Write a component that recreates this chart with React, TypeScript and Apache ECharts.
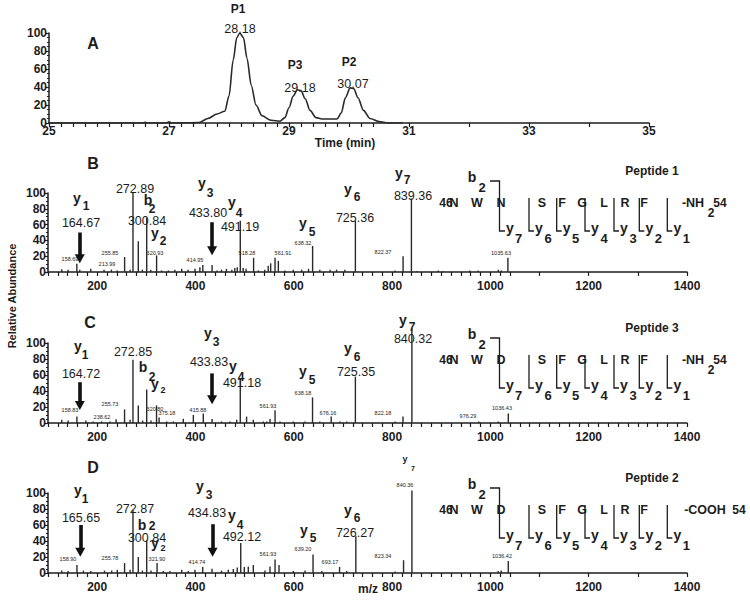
import React, { useEffect, useRef } from "react";
import * as echarts from "echarts";

// ---------------- DATA ----------------
// Panel A: chromatogram
const chromTime = [25, 26.55, 26.6, 26.65, 26.95, 27.0, 27.05, 27.5, 27.65, 27.8, 27.93, 28.0, 28.07, 28.13, 28.18, 28.24, 28.3, 28.37, 28.45, 28.55, 28.7, 28.85, 28.93, 29.0, 29.07, 29.14, 29.2, 29.27, 29.35, 29.45, 29.55, 29.8, 29.87, 29.94, 30.02, 30.08, 30.15, 30.24, 30.35, 30.5, 30.65, 30.9];
const chromIntensity = [0, 0, 0.8, 0, 0, 1.2, 0, 0.5, 5, 10, 13, 30, 70, 95, 100, 95, 72, 42, 20, 8, 3, 2, 6, 17, 30, 37, 36, 27, 14, 6, 4.5, 4.5, 11, 28, 39, 38, 28, 14, 5, 1.5, 0, 0];
const peakNames = ["P1", "P3", "P2"];
const peakTimes = ["28.18", "29.18", "30.07"];

// Panel B: Peptide 1 MS/MS
const mzB = [128, 141, 158.69, 164.67, 187, 213.99, 229, 241, 255.85, 267, 272.89, 283.7, 292, 300.84, 309, 320.93, 331, 345, 358, 372, 385, 399, 409, 414.95, 433.8, 444, 453, 463, 474, 480, 485, 491.19, 497, 503, 518.28, 528, 541, 548, 553, 561.91, 568.6, 582, 599, 616, 630, 638.32, 653, 674, 687, 704, 725.36, 806, 822.37, 839.36, 850, 894, 904, 958, 975, 1016, 1022, 1035.63];
const intB = [3.4, 3, 10.5, 3, 4, 3, 3, 2, 19, 3, 100, 39, 3, 69, 3, 21, 2, 2, 3, 4, 3, 4, 6, 9, 9, 2, 3, 4, 3, 5, 6, 65, 5, 4, 18, 2, 3, 8, 11, 18, 14, 2, 3, 3, 4, 33, 3, 3, 3, 3, 65, 2, 20, 93, 1, 2, 1, 2, 2, 3, 2, 18];

// Panel C: Peptide 3 MS/MS
const mzC = [128, 141, 158.83, 177, 192, 209, 226, 238.62, 255.73, 267, 272.85, 283.7, 292.6, 300.8, 309.5, 320.8, 326, 341.5, 355, 375.18, 395.7, 415.88, 433.83, 453, 470, 484, 491.18, 504, 517.7, 538, 545, 551.7, 561.93, 572, 599, 623, 638.18, 653, 676.16, 694, 707.7, 725.35, 806, 822.18, 840.32, 976.29, 1016, 1036.43];
const intC = [4, 3, 8, 3, 2, 2, 2, 4.6, 17, 4, 79, 22, 3, 42, 3, 22, 7, 2, 2, 5.4, 10, 12, 5, 2, 2, 4, 55, 8, 4, 2, 2, 5, 16, 2, 2, 2, 32, 2, 8, 2, 2, 58, 2, 8, 118, 2, 2, 12];

// Panel D: Peptide 2 MS/MS
const mzD = [128, 141, 158.9, 172, 187, 215, 229.6, 241, 255.78, 267, 272.87, 283.7, 292, 300.84, 309.5, 321.9, 334.6, 348, 372, 385.5, 399, 414.74, 433.7, 453, 466.8, 477, 485, 492.12, 499.4, 507.5, 517.7, 541.5, 551.7, 561.93, 570, 599, 623, 639.2, 656.9, 693.17, 707.7, 726.27, 806, 823.34, 840.36, 1016, 1022, 1036.42];
const intD = [3, 2.5, 10, 3, 2.5, 3, 3, 4, 12.5, 4, 79, 20, 3, 41, 3, 12.5, 2.5, 2.5, 4, 2.5, 4, 7.5, 5.4, 3, 4, 5, 7, 37.5, 7.5, 8, 10, 3, 8, 17, 10, 2.5, 3, 23, 2.5, 7.5, 2.5, 46, 2, 16, 103, 2.5, 3, 15];

// Arrows marking y1 / y3 ions: [m/z, arrow top %, arrow head centre %]
const arrowsB = [[164.67, 50, 16.7], [433.8, 63, 27]];
const arrowsC = [[164.72, 51, 22], [433.83, 62, 29]];
const arrowsD = [[165.65, 60, 26], [434.83, 61, 26]];

// Peptide sequences
const residuesB = ["N", "W", "N", "S", "F", "G", "L", "R", "F"];
const residuesC = ["N", "W", "D", "S", "F", "G", "L", "R", "F"];
const residuesD = ["N", "W", "D", "S", "F", "G", "L", "R", "F"];
const peptideNames = ["Peptide 1", "Peptide 3", "Peptide 2"];

// Annotation texts (text, then layout position)
const ionB: any[] = [["y", "1", 77, 200, 86, 206], ["b", "2", 148, 200, 152, 209], ["y", "2", 155, 235, 163, 241], ["y", "3", 202, 185, 210, 193], ["y", "4", 232, 204, 239, 213], ["y", "5", 303, 225, 312, 232], ["y", "6", 348, 191, 357, 197], ["y", "7", 399, 175, 407, 180]];
const valB: any[] = [["164.67", 81, 223], ["272.89", 135, 189], ["300.84", 147, 221], ["433.80", 208, 213], ["491.19", 240, 227], ["725.36", 355, 218], ["839.36", 413, 196]];
const smallB: any[] = [["158.69", 70, 259], ["213.99", 107, 264], ["255.85", 110, 253], ["320.93", 155, 253], ["414.95", 195, 260], ["518.28", 247, 253], ["561.91", 283, 253], ["638.32", 303, 243], ["822.37", 383, 252], ["1035.63", 501, 253]];

const ionC: any[] = [["y", "1", 78, 348, 85, 355], ["b", "2", 143, 367, 152, 377], ["y", "2", 155, 386, 163, 390, 14, 9], ["y", "3", 208, 335, 216, 342], ["y", "4", 233, 368, 241, 377], ["y", "5", 303, 373, 312, 380], ["y", "6", 348, 350, 357, 357], ["y", "7", 403, 322, 412, 327]];
const valC: any[] = [["164.72", 81, 374], ["272.85", 133, 352], ["433.83", 209, 362], ["491.18", 242, 383], ["725.35", 356, 372], ["840.32", 413, 339]];
const smallC: any[] = [["158.83", 70, 410], ["238.62", 102, 417], ["255.73", 110, 404], ["320.80", 155, 409], ["375.18", 167, 413], ["415.88", 198, 410], ["561.93", 268, 406], ["638.18", 303, 393], ["676.16", 328, 413], ["822.18", 383, 413], ["976.29", 468, 416], ["1036.43", 502, 408]];

const ionD: any[] = [["y", "1", 78, 492, 85, 499], ["b", "2", 142, 525, 152, 526], ["y", "2", 155, 545, 163, 548, 14, 9], ["y", "3", 200, 488, 209, 495], ["y", "4", 232, 517, 240, 525], ["y", "5", 304, 532, 313, 538], ["y", "6", 348, 512, 357, 518], ["y", "7", 405, 460, 413, 468, 9, 7]];
const valD: any[] = [["165.65", 81, 518], ["272.87", 135, 509], ["300.84", 147, 538], ["434.83", 207, 513], ["492.12", 242, 537], ["726.27", 355, 533]];
const smallD: any[] = [["158.90", 68, 559], ["255.78", 110, 558], ["321.90", 157, 559], ["414.74", 197, 562], ["561.93", 268, 554], ["639.20", 303, 549], ["693.17", 330, 562], ["823.34", 383, 556], ["1036.42", 502, 556], ["840.36", 405, 485]];

// ---------------- STYLE / LAYOUT ----------------
const FONT = '"Liberation Sans", Arial, Helvetica, sans-serif';
const INK = "#1c1c1c";

function seq(a: number, b: number, step: number) {
  const r: number[] = [];
  for (let v = a; v <= b + 1e-9; v += step) r.push(+v.toFixed(4));
  return r;
}

function txt(text: string, x: number, y: number, size: number, weight = "bold", rotation = 0): any {
  return {
    type: "text", x, y, rotation, silent: true,
    style: { text, fontSize: size, fontWeight: weight, fontFamily: FONT, fill: INK, align: "center", verticalAlign: "middle" },
  };
}

function ionEls(list: any[]) {
  const out: any[] = [];
  list.forEach((it) => {
    const [l, s, x, y, sx, sy, ls = 14, ss = 12] = it;
    const adj = l === "y" ? -2 * (ls / 14) : 0;
    out.push(txt(l, x, y + adj, ls, "bold"));
    out.push(txt(s, sx, sy, ss, "bold"));
  });
  return out;
}
function valEls(list: any[], size = 12.5) {
  return list.map((v) => txt(v[0], v[1], v[2], size, "normal"));
}

const residueX = [454, 477, 501, 542, 562, 582, 604, 625, 644];
const yBracketX = [529, 556.7, 585, 614, 639.3, 667.3];
const lineStyle = { stroke: INK, lineWidth: 1.3, fill: null };

function peptide(dy: number, residues: string[], cooh: boolean, name: string) {
  const ch: any[] = [];
  ch.push(txt(name, 652, 171, 12, "bold"));
  ch.push(txt("46", 446, 203, 12, "bold"));
  residues.forEach((r, i) => ch.push(txt(r, residueX[i], 203, 12.5, "bold")));
  if (cooh) {
    ch.push(txt("-COOH", 705, 203, 12.5, "bold"));
    ch.push(txt("54", 739, 203, 12, "bold"));
  } else {
    ch.push(txt("-NH", 693, 203, 12.5, "bold"));
    ch.push(txt("2", 711, 213, 12, "bold"));
    ch.push(txt("54", 720, 203, 12, "bold"));
  }
  // b2 bracket continuing into y7
  ch.push(txt("b", 472, 177, 14, "bold"));
  ch.push(txt("2", 482, 187, 13, "bold"));
  ch.push({ type: "polyline", silent: true, shape: { points: [[490, 181], [499.5, 181], [499.5, 231], [505, 231]] }, style: lineStyle });
  ch.push(txt("y", 510, 228, 14, "bold"));
  ch.push(txt("7", 518.5, 238, 13, "bold"));
  const subs = ["6", "5", "4", "3", "2", "1"];
  yBracketX.forEach((vx, i) => {
    ch.push({ type: "polyline", silent: true, shape: { points: [[vx, 198], [vx, 231], [vx + 5, 231]] }, style: lineStyle });
    ch.push(txt("y", vx + 10, 228, 14, "bold"));
    ch.push(txt(subs[i], vx + 19, 238, 13, "bold"));
  });
  return { type: "group", x: 0, y: dy, children: ch };
}

function buildOption() {
  const aTicks = [...seq(25, 30.4, 0.2), 31, 32, 33, 34, 35];
  const aLabels = [25, 27, 29, 31, 33, 35];
  const tail = [1100, 1200, 1300, 1400];
  const bTicks = [...seq(100, 1040, 20), ...tail];
  const cTicks = seq(100, 1400, 20);
  const mzLabels = [200, 400, 600, 800, 1000, 1200, 1400];
  const plain = (v: number) => String(v);

  const grids = [
    { left: 49, top: 33, width: 600, height: 90 },
    { left: 48, top: 193, width: 639, height: 79 },
    { left: 48, top: 343, width: 639, height: 80 },
    { left: 48, top: 493, width: 639, height: 80 },
  ].map((g) => ({ ...g, containLabel: false, outerBoundsMode: "none" }));

  const axLine = { show: true, onZero: false, lineStyle: { color: INK, width: 1.5 } };
  const labelBase = { fontFamily: FONT, fontSize: 12, fontWeight: "bold", color: INK, formatter: plain };

  const xAxes: any[] = [
    {
      type: "value", gridIndex: 0, min: 25, max: 35, axisLine: axLine,
      axisTick: { show: true, length: 4, customValues: aTicks, lineStyle: { color: INK, width: 1.2 } },
      axisLabel: { ...labelBase, margin: 2, customValues: aLabels },
      splitLine: { show: false },
    },
  ];
  [bTicks, cTicks, bTicks].forEach((ticks, i) => {
    xAxes.push({
      type: "value", gridIndex: i + 1, min: 100, max: 1400, axisLine: axLine,
      axisTick: { show: true, length: 4, customValues: ticks, lineStyle: { color: INK, width: 1.2 } },
      axisLabel: { ...labelBase, margin: 8, customValues: mzLabels },
      splitLine: { show: false },
    });
  });
  const yAxes = [0, 1, 2, 3].map((i) => ({
    type: "value", gridIndex: i, min: 0, max: 100, interval: 20, axisLine: axLine,
    axisTick: { show: true, length: 4, lineStyle: { color: INK, width: 1.2 } },
    minorTick: { show: true, splitNumber: 4, length: 2, lineStyle: { color: INK, width: 1 } },
    axisLabel: { ...labelBase, margin: 2 },
    splitLine: { show: false }, minorSplitLine: { show: false },
  }));

  const spectrum = (k: number, mz: number[], ints: number[], arrows: number[][]) => ({
    type: "bar", xAxisIndex: k, yAxisIndex: k, silent: true, clip: false,
    barWidth: 1.4,
    itemStyle: { color: "#2a2a2a" },
    data: mz.map((m, i) => [m, ints[i]]),
    markLine: {
      silent: true, symbol: ["none", "triangle"], symbolSize: [10, 9],
      label: { show: false },
      lineStyle: { color: "#111", width: 3.6, type: "solid" },
      emphasis: { disabled: true },
      data: arrows.map((a) => [{ coord: [a[0], a[1]] }, { coord: [a[0], a[2]] }]),
    },
  });

  const series: any[] = [
    {
      type: "line", xAxisIndex: 0, yAxisIndex: 0, silent: true, symbol: "none",
      smooth: 0.3, smoothMonotone: "x",
      lineStyle: { color: "#2a2a2a", width: 1.6 },
      data: chromTime.map((t, i) => [t, chromIntensity[i]]),
    },
    spectrum(1, mzB, intB, arrowsB),
    spectrum(2, mzC, intC, arrowsC),
    spectrum(3, mzD, intD, arrowsD),
  ];

  const peakPos = [[238, 9, 240, 29], [295, 65, 300, 88], [349, 62, 353, 84]];
  const g: any[] = [];
  peakNames.forEach((n, i) => {
    const p = peakPos[i];
    g.push(txt(n, p[0], p[1], 12, "bold"));
    g.push(txt(peakTimes[i], p[2], p[3], 12.5, "normal"));
  });
  g.push(txt("A", 93, 43, 16, "bold"));
  g.push(txt("B", 93, 163, 16, "bold"));
  g.push(txt("C", 90, 322, 16, "bold"));
  g.push(txt("D", 93, 467, 16, "bold"));
  g.push(txt("Time (min)", 345, 143, 12, "bold"));
  g.push(txt("m/z", 368, 589, 12, "bold"));
  g.push(txt("Relative Abundance", 12, 296, 11, "bold", Math.PI / 2));
  g.push(...ionEls(ionB), ...valEls(valB), ...valEls(smallB, 5.5));
  g.push(...ionEls(ionC), ...valEls(valC), ...valEls(smallC, 5.5));
  g.push(...ionEls(ionD), ...valEls(valD), ...valEls(smallD, 5.5));
  g.push(peptide(0, residuesB, false, peptideNames[0]));
  g.push(peptide(157, residuesC, false, peptideNames[1]));
  g.push(peptide(307, residuesD, true, peptideNames[2]));

  return {
    animation: false,
    backgroundColor: "#ffffff",
    grid: grids,
    xAxis: xAxes,
    yAxis: yAxes,
    series,
    graphic: { elements: g },
  };
}

export default function App() {
  const ref = useRef<HTMLDivElement>(null);
  useEffect(() => {
    const chart = echarts.init(ref.current!, null, { renderer: "svg" });
    chart.setOption(buildOption() as any);
    return () => chart.dispose();
  }, []);
  return (
    <div
      ref={ref}
      style={{ position: "fixed", left: 0, top: 0, width: 750, height: 606, background: "#fff" }}
    />
  );
}
